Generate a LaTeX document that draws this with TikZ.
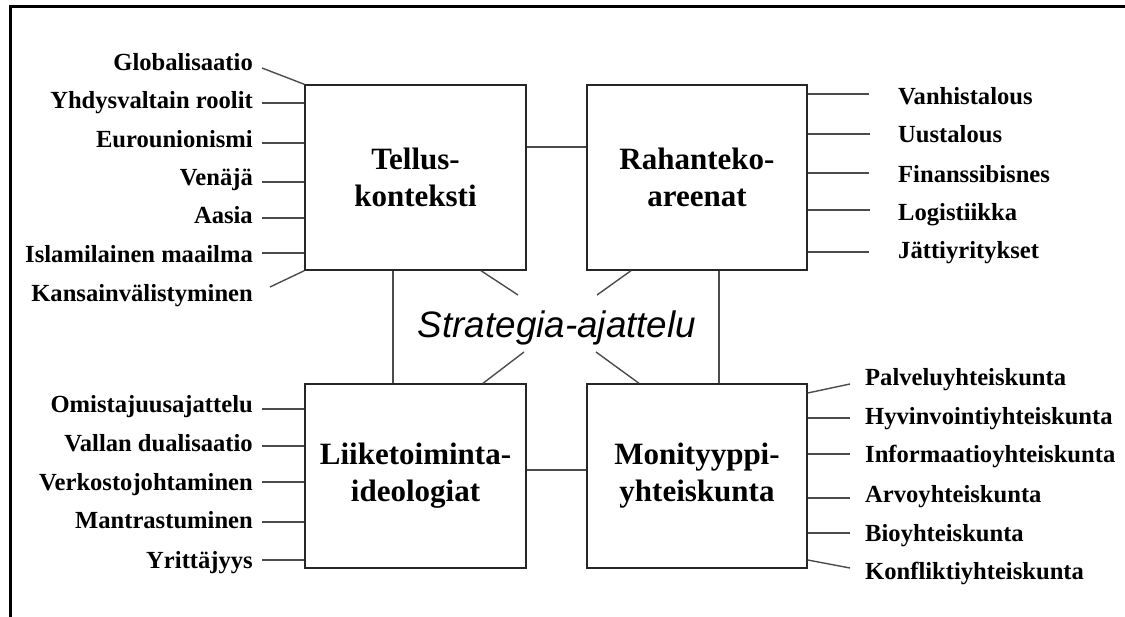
\documentclass[tikz,border=0pt]{standalone}
\usepackage{fontspec}
\setmainfont{Liberation Serif}
\newfontfamily\arialfont{Liberation Sans}
\begin{document}
\begin{tikzpicture}[x=1pt,y=-1pt,
  box/.style={draw=black!85,line width=1.4pt,minimum width=221pt,minimum height=185pt,inner sep=0pt,
    align=center,font=\fontsize{31}{37}\selectfont\bfseries},
  lab/.style={inner sep=0pt,font=\fontsize{24.6}{28}\selectfont\bfseries},
  conn/.style={draw=black!70,line width=1.4pt},
  frame/.style={line width=3pt,draw=black}]
\useasboundingbox (0,0) rectangle (1125,617);
% frame
\coordinate (f1) at (10.5,617);
\coordinate (f2) at (10.5,7);
\coordinate (f3) at (1125,7);
\draw[frame] (f1) -- (f2) -- (f3);
% boxes
\node[box] (T) at (415.5,177.5) {Tellus-\\konteksti};
\node[box,minimum width=220pt] (R) at (697,177.5) {Rahanteko-\\areenat};
\node[box,minimum height=184pt] (L) at (415.5,476) {Liiketoiminta-\\ideologiat};
\node[box,minimum width=220pt,minimum height=184pt] (M) at (697,476) {Monityyppi-\\yhteiskunta};
% centre text
\node[inner sep=0pt,anchor=base,font=\fontsize{36.8}{40}\selectfont\arialfont\itshape] (S) at (557,338) {Strategia-ajattelu};
% box-to-box connectors
\draw[conn] (T.east |- 0,147) -- (R.west |- 0,147);
\draw[conn] (L.east |- 0,470) -- (M.west |- 0,470);
\draw[conn] (T.south -| 393,0) -- (L.north -| 393,0);
\draw[conn] (R.south -| 719,0) -- (M.north -| 719,0);
% rays toward the centre text
\draw[conn] (T.south -| 481,0) -- (518,295);
\draw[conn] (R.south -| 631,0) -- (597,295);
\draw[conn] (L.north -| 483,0) -- (524,352);
\draw[conn] (M.north -| 639,0) -- (596,352);
% left-top labels
\node[lab,anchor=base east] (t1) at (253,70.7) {Globalisaatio};
\node[lab,anchor=base east] (t2) at (253,109) {Yhdysvaltain roolit};
\node[lab,anchor=base east] (t3) at (253,148) {Eurounionismi};
\node[lab,anchor=base east] (t4) at (253,186) {Venäjä};
\node[lab,anchor=base east] (t5) at (253,224) {Aasia};
\node[lab,anchor=base east] (t6) at (253,263) {Islamilainen maailma};
\node[lab,anchor=base east] (t7) at (253,302) {Kansainvälistyminen};
\draw[conn] (262,68) -- (T.north west);
\draw[conn] (262,103) -- (T.west |- 0,103);
\draw[conn] (262,143) -- (T.west |- 0,143);
\draw[conn] (262,182) -- (T.west |- 0,182);
\draw[conn] (262,218) -- (T.west |- 0,218);
\draw[conn] (262,253) -- (T.west |- 0,253);
\draw[conn] (270,287) -- (T.south west);
% left-bottom labels
\node[lab,anchor=base east] (b1) at (253,413) {Omistajuusajattelu};
\node[lab,anchor=base east] (b2) at (253,452) {Vallan dualisaatio};
\node[lab,anchor=base east] (b3) at (253,490) {Verkostojohtaminen};
\node[lab,anchor=base east] (b4) at (253,529) {Mantrastuminen};
\node[lab,anchor=base east] (b5) at (253,568) {Yrittäjyys};
\draw[conn] (262,409) -- (L.west |- 0,409);
\draw[conn] (262,446) -- (L.west |- 0,446);
\draw[conn] (262,482) -- (L.west |- 0,482);
\draw[conn] (262,522) -- (L.west |- 0,522);
\draw[conn] (262,560) -- (L.west |- 0,560);
% right-top labels
\node[lab,anchor=base west] (r1) at (898,105) {Vanhistalous};
\node[lab,anchor=base west] (r2) at (898,143) {Uustalous};
\node[lab,anchor=base west] (r3) at (898,183) {Finanssibisnes};
\node[lab,anchor=base west] (r4) at (898,221) {Logistiikka};
\node[lab,anchor=base west] (r5) at (898,259) {Jättiyritykset};
\draw[conn] (R.east |- 0,94) -- (869,94);
\draw[conn] (R.east |- 0,134) -- (870,134);
\draw[conn] (R.east |- 0,173) -- (869,173);
\draw[conn] (R.east |- 0,210) -- (870,210);
\draw[conn] (R.east |- 0,252) -- (869,252);
% right-bottom labels
\node[lab,anchor=base west] (m1) at (865,386) {Palveluyhteiskunta};
\node[lab,anchor=base west] (m2) at (865,425) {Hyvinvointiyhteiskunta};
\node[lab,anchor=base west] (m3) at (865,463) {Informaatioyhteiskunta};
\node[lab,anchor=base west] (m4) at (865,503) {Arvoyhteiskunta};
\node[lab,anchor=base west] (m5) at (865,541) {Bioyhteiskunta};
\node[lab,anchor=base west] (m6) at (865,579) {Konfliktiyhteiskunta};
\draw[conn] (M.east |- 0,393) -- (850,384);
\draw[conn] (M.east |- 0,418) -- (850,418);
\draw[conn] (M.east |- 0,454) -- (850,454);
\draw[conn] (M.east |- 0,498) -- (850,498);
\draw[conn] (M.east |- 0,533) -- (850,533);
\draw[conn] (M.east |- 0,560) -- (850,568);
\end{tikzpicture}
\end{document}
